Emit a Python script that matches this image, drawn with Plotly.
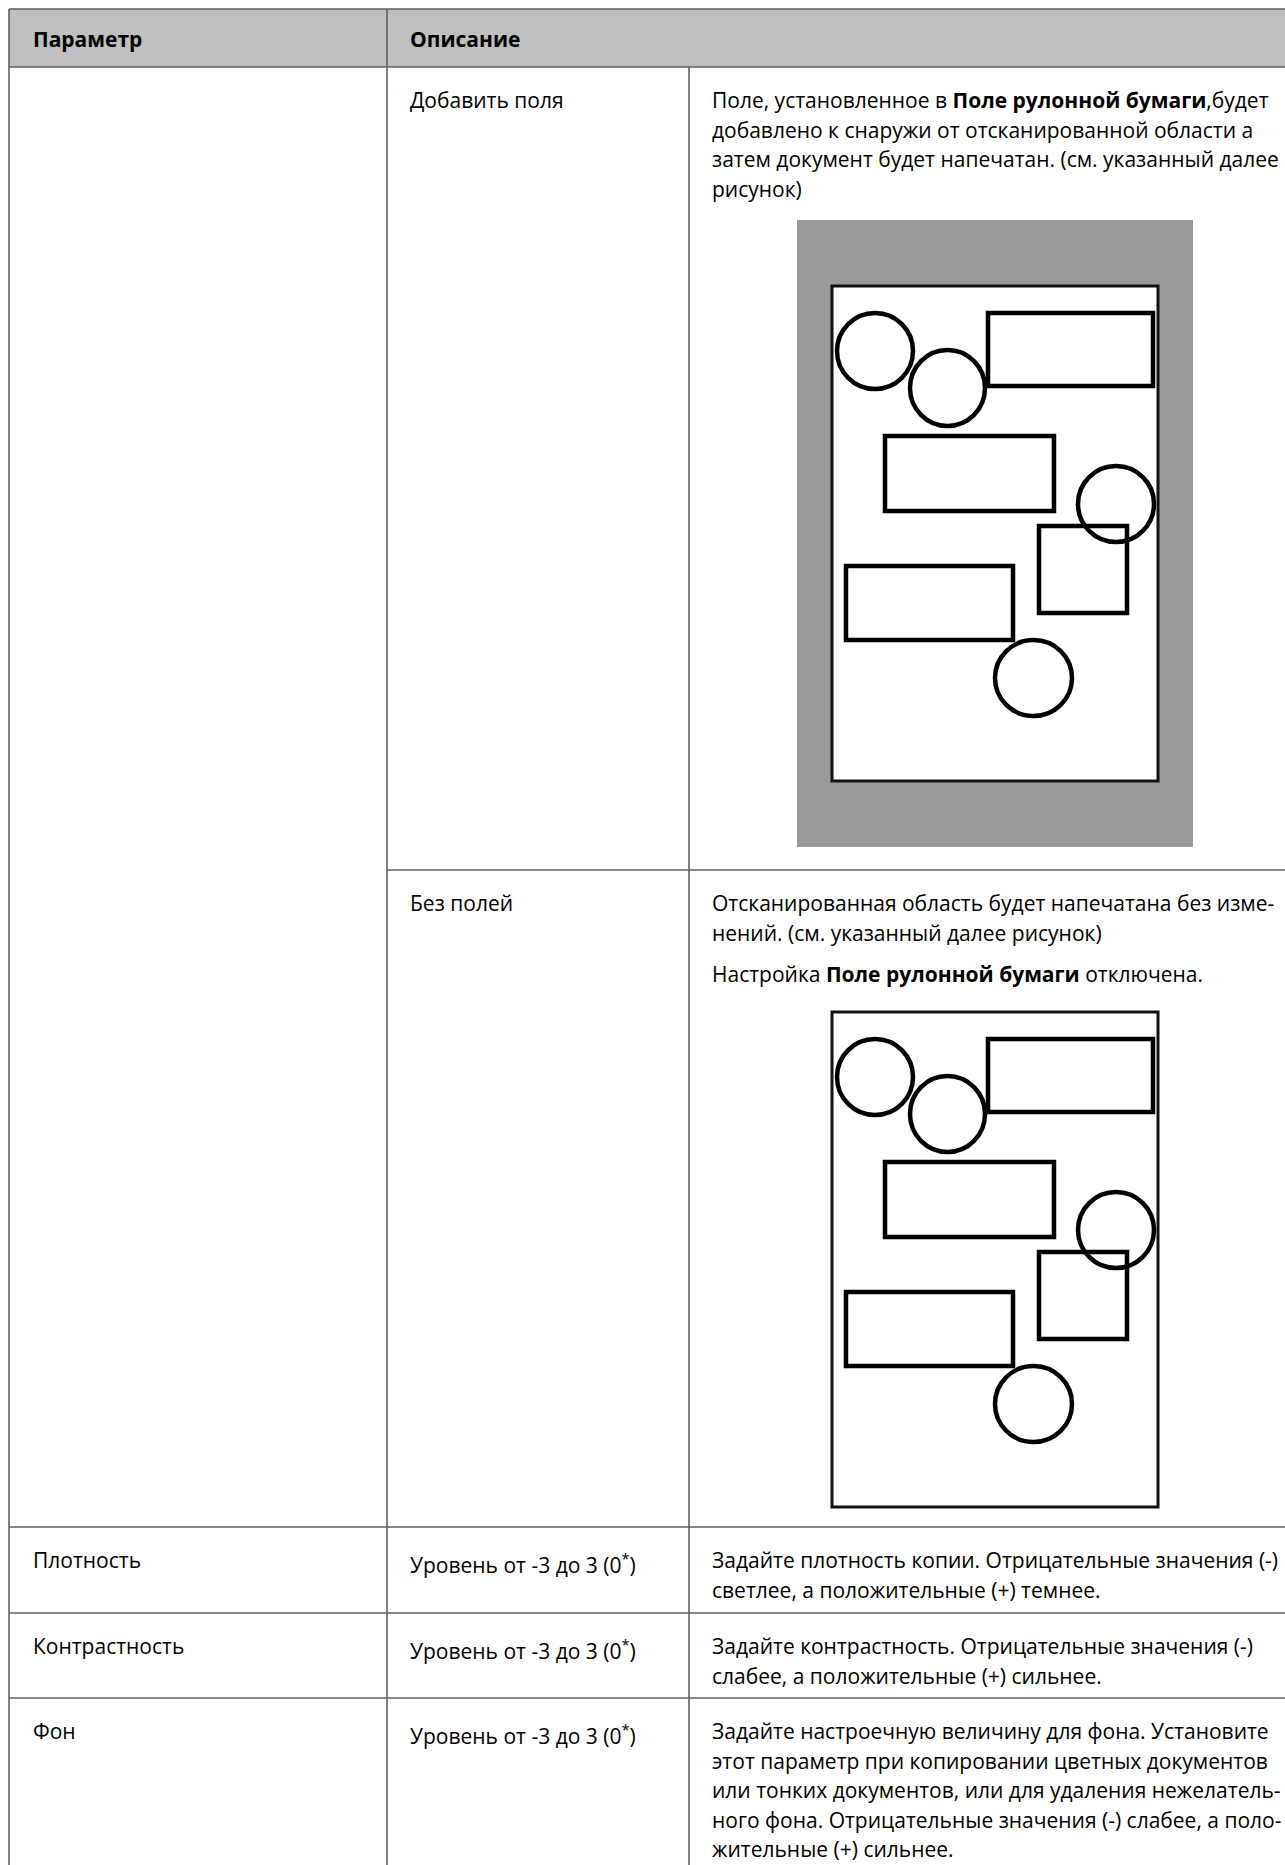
import plotly.graph_objects as go

# ---------------- content ----------------
header_labels = ["Параметр", "Описание"]
option_names = ["Добавить поля", "Без полей"]
param_names = ["Плотность", "Контрастность", "Фон"]
level_texts = ["Уровень от -3 до 3 (0<sup>*</sup>)"] * 3

desc_add_margin = [
    "Поле, установленное в <b>Поле рулонной бумаги</b>,будет",
    "добавлено к снаружи от отсканированной области а",
    "затем документ будет напечатан. (см. указанный далее",
    "рисунок)",
]
desc_no_margin_p1 = [
    "Отсканированная область будет напечатана без изме-",
    "нений. (см. указанный далее рисунок)",
]
desc_no_margin_p2 = ["Настройка <b>Поле рулонной бумаги</b> отключена."]
desc_density = [
    "Задайте плотность копии. Отрицательные значения (-)",
    "светлее, а положительные (+) темнее.",
]
desc_contrast = [
    "Задайте контрастность. Отрицательные значения (-)",
    "слабее, а положительные (+) сильнее.",
]
desc_background = [
    "Задайте настроечную величину для фона. Установите",
    "этот параметр при копировании цветных документов",
    "или тонких документов, или для удаления нежелатель-",
    "ного фона. Отрицательные значения (-) слабее, а поло-",
    "жительные (+) сильнее.",
]

# illustration content (page units: width 326, height 495)
page_w, page_h = 326, 495
circle_x0 = [3, 76, 244, 161]
circle_y0 = [25, 62, 178, 352]
circle_x1 = [83, 155, 324, 242]
circle_y1 = [105, 142, 258, 432]
rect_x0 = [154, 51, 205, 12]
rect_y0 = [25, 148, 238, 278]
rect_x1 = [323, 224, 297, 183]
rect_y1 = [102, 227, 329, 356]
margin_band = (35, 66)  # grey roll-paper margin around page (units)

# ---------------- layout constants ----------------
W, H = 1285, 1865
FONT = "Open Sans"
FS = 21
LINE_C = "#5f5f5f"
HEAD_FILL = "#bfbfbf"
TXT_C = "#000000"

left_x, col2_x, col3_x, right_x = 9, 387, 689, W + 5
top_y, head_bot = 9, 67
sub_row_y = 870
row_lines = [1527, 1613, 1698]
pad_x = 21
first_off = 33
lh = 29.5

fig = go.Figure()
for ax in ["x", "x2", "x3"]:
    yax = "y" + ax[1:]
    fig.add_trace(go.Scatter(x=[None], y=[None], xaxis=ax, yaxis=yax, mode="markers",
                             showlegend=False, hoverinfo="skip"))

shapes = []
annotations = []

def line(x0, y0, x1, y1, w=1.6, c=LINE_C):
    shapes.append(dict(type="line", xref="x", yref="y", x0=x0, y0=y0, x1=x1, y1=y1,
                       line=dict(color=c, width=w)))

# header fill
shapes.append(dict(type="rect", xref="x", yref="y", x0=left_x, y0=top_y, x1=right_x, y1=head_bot,
                   fillcolor=HEAD_FILL, line=dict(width=0)))
line(left_x, top_y, right_x, top_y)
line(left_x, head_bot, right_x, head_bot)
line(left_x, top_y, left_x, H + 5)
line(col2_x, top_y, col2_x, H + 5)
line(col3_x, head_bot, col3_x, H + 5)
line(col2_x, sub_row_y, right_x, sub_row_y)
for ry in row_lines:
    line(left_x, ry, right_x, ry)

def text(x, y, s, bold=False):
    annotations.append(dict(xref="x", yref="y", x=x, y=y, text=("<b>%s</b>" % s) if bold else s,
                            showarrow=False, xanchor="left", yanchor="middle",
                            font=dict(family=FONT, size=FS, color=TXT_C)))

# header text
text(left_x + pad_x + 1, (top_y + head_bot) / 2 + 1, header_labels[0], bold=True)
text(col2_x + pad_x, (top_y + head_bot) / 2 + 1, header_labels[1], bold=True)

# sub-rows
text(col2_x + pad_x, head_bot + first_off, option_names[0])
for i, s in enumerate(desc_add_margin):
    text(col3_x + pad_x, head_bot + first_off + i * lh, s)
text(col2_x + pad_x, sub_row_y + first_off, option_names[1])
for i, s in enumerate(desc_no_margin_p1):
    text(col3_x + pad_x, sub_row_y + first_off + i * lh, s)
p2_y = sub_row_y + first_off + len(desc_no_margin_p1) * lh + 12
for i, s in enumerate(desc_no_margin_p2):
    text(col3_x + pad_x, p2_y + i * lh, s)

# parameter rows
descs = [desc_density, desc_contrast, desc_background]
for k, ry in enumerate(row_lines):
    y0 = ry + first_off
    text(left_x + pad_x + 1, y0, param_names[k])
    text(col2_x + pad_x, y0 + 3, level_texts[k])
    for i, s in enumerate(descs[k]):
        text(col3_x + pad_x, y0 + i * lh, s)

# ---------------- illustrations ----------------
page_left = 832
page_tops = [286, 1012]
axis_ids = [("x2", "y2"), ("x3", "y3")]
mx, my = margin_band

layout_axes = {}
for n, (ptop, (xa, ya)) in enumerate(zip(page_tops, axis_ids)):
    # axis area spans page plus surrounding margin band so nothing is clipped
    xd = [(page_left - mx) / W, (page_left + page_w + mx) / W]
    yd = [1 - (ptop + page_h + my) / H, 1 - (ptop - my) / H]
    kx = "xaxis" + xa[1:]
    ky = "yaxis" + ya[1:]
    layout_axes[kx] = dict(domain=xd, range=[-mx, page_w + mx], visible=False, anchor=ya, fixedrange=True)
    layout_axes[ky] = dict(domain=yd, range=[page_h + my, -my], visible=False, anchor=xa, fixedrange=True)
    if n == 0:
        shapes.append(dict(type="rect", xref=xa, yref=ya, x0=-mx, y0=-my, x1=page_w + mx, y1=page_h + my,
                           fillcolor="#9a9a9a", line=dict(width=0)))
    shapes.append(dict(type="rect", xref=xa, yref=ya, x0=0, y0=0, x1=page_w, y1=page_h,
                       fillcolor="white", line=dict(color="#111111", width=3)))
    for a, b, c, d in zip(rect_x0, rect_y0, rect_x1, rect_y1):
        shapes.append(dict(type="rect", xref=xa, yref=ya, x0=a + 2, y0=b + 2, x1=c - 2, y1=d - 2,
                           line=dict(color="black", width=4.5)))
    for a, b, c, d in zip(circle_x0, circle_y0, circle_x1, circle_y1):
        shapes.append(dict(type="circle", xref=xa, yref=ya, x0=a + 2, y0=b + 2, x1=c - 2, y1=d - 2,
                           line=dict(color="black", width=4.5)))

fig.update_layout(
    width=W, height=H,
    margin=dict(l=0, r=0, t=0, b=0),
    paper_bgcolor="white", plot_bgcolor="rgba(0,0,0,0)",
    xaxis=dict(range=[0, W], visible=False, domain=[0, 1], fixedrange=True),
    yaxis=dict(range=[H, 0], visible=False, domain=[0, 1], fixedrange=True),
    shapes=shapes, annotations=annotations, showlegend=False,
    **layout_axes,
)
fig.write_html(
    "out.html",
    config={"displayModeBar": False},
    post_script="document.body.style.margin='0px';document.body.style.overflow='hidden';",
)
